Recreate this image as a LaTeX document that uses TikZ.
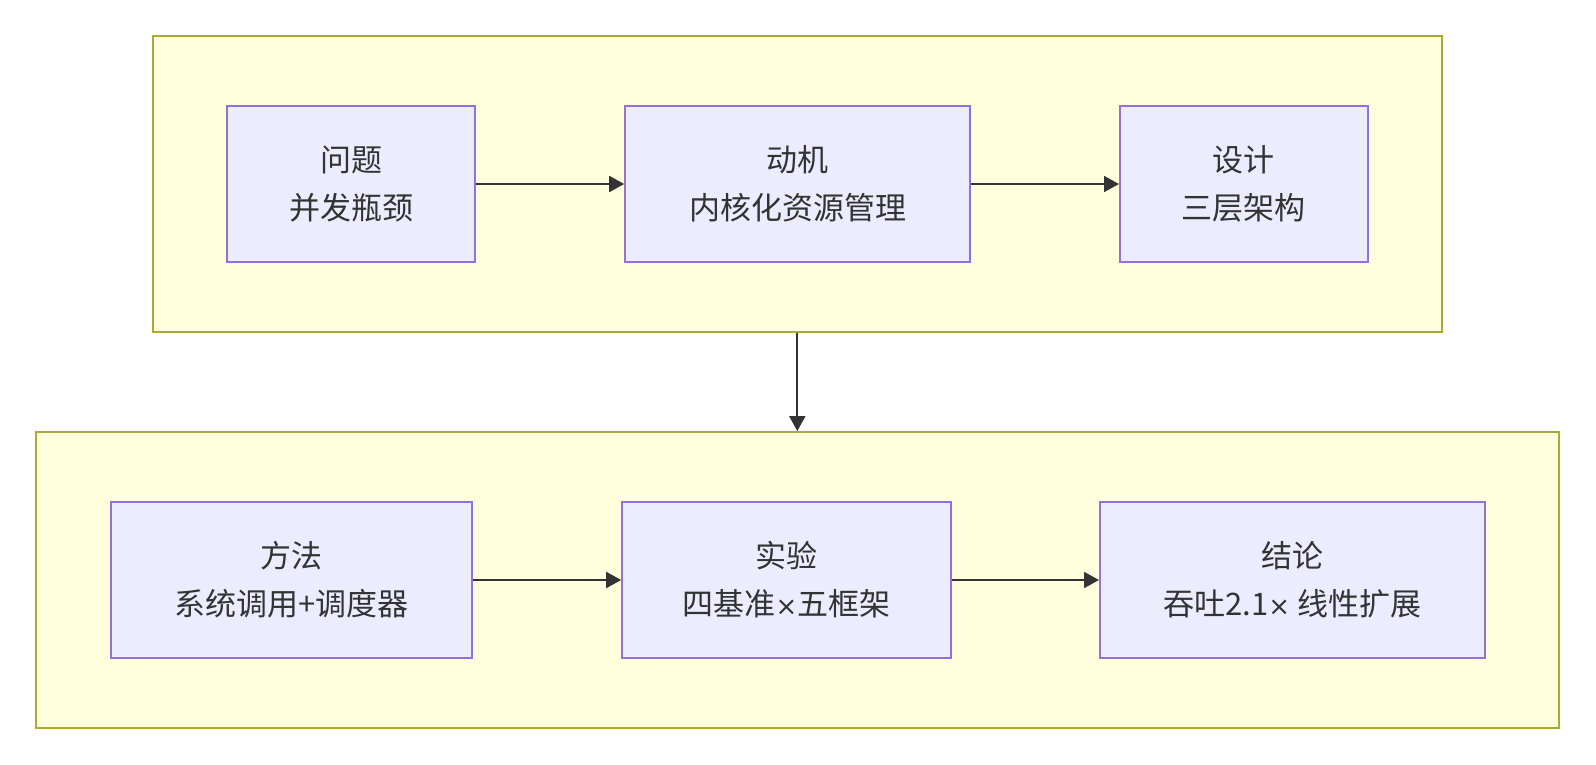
\documentclass[tikz,border=0pt]{standalone}
\usepackage{fontspec}
\setmainfont{Noto Sans CJK SC}
\newfontfamily\symf{DejaVu Sans}
\usetikzlibrary{arrows.meta}
\definecolor{clfill}{HTML}{FFFFDE}
\definecolor{cldraw}{HTML}{AAAA33}
\definecolor{ndfill}{HTML}{ECECFF}
\definecolor{nddraw}{HTML}{9370DB}
\definecolor{txt}{HTML}{333333}
\newcommand{\tms}{{\symf\fontsize{26pt}{48pt}\selectfont ×}}
\begin{document}
\begin{tikzpicture}[x=1pt,y=-1pt,
  cluster/.style={rectangle,draw=cldraw,fill=clfill,line width=1.6pt,inner sep=0pt},
  box/.style={rectangle,draw=nddraw,fill=ndfill,line width=1.6pt,minimum height=156pt,inner sep=0pt,align=center,font=\fontsize{31pt}{48pt}\selectfont,text=txt},
  link/.style={draw=txt,line width=1.8pt,-{Triangle[length=15pt,width=16pt]}}]
\useasboundingbox (0,0) rectangle (1596,764);
\fill[white] (0,0) rectangle (1596,764);
\node[cluster,minimum width=1289pt,minimum height=296pt] (top) at (797.3,183.7) {};
\node[cluster,minimum width=1523pt,minimum height=296pt] (bot) at (797.3,579.9) {};
\node[box,minimum width=248pt] (q) at (351,184) {问题\\并发瓶颈};
\node[box,minimum width=345pt] (m) at (797.5,184) {动机\\内核化资源管理};
\node[box,minimum width=248pt] (d) at (1243.8,184) {设计\\三层架构};
\node[box,minimum width=361pt] (f) at (291.3,580) {方法\\系统调用+调度器};
\node[box,minimum width=329pt] (e) at (786.5,580) {实验\\四基准\tms 五框架};
\node[box,minimum width=385pt] (c) at (1292.3,580) {结论\\吞吐2.1\tms{} 线性扩展};
\draw[link] (q) -- (m);
\draw[link] (m) -- (d);
\draw[link] (f) -- (e);
\draw[link] (e) -- (c);
\draw[link] (top.south) -- (bot.north);
\end{tikzpicture}
\end{document}
